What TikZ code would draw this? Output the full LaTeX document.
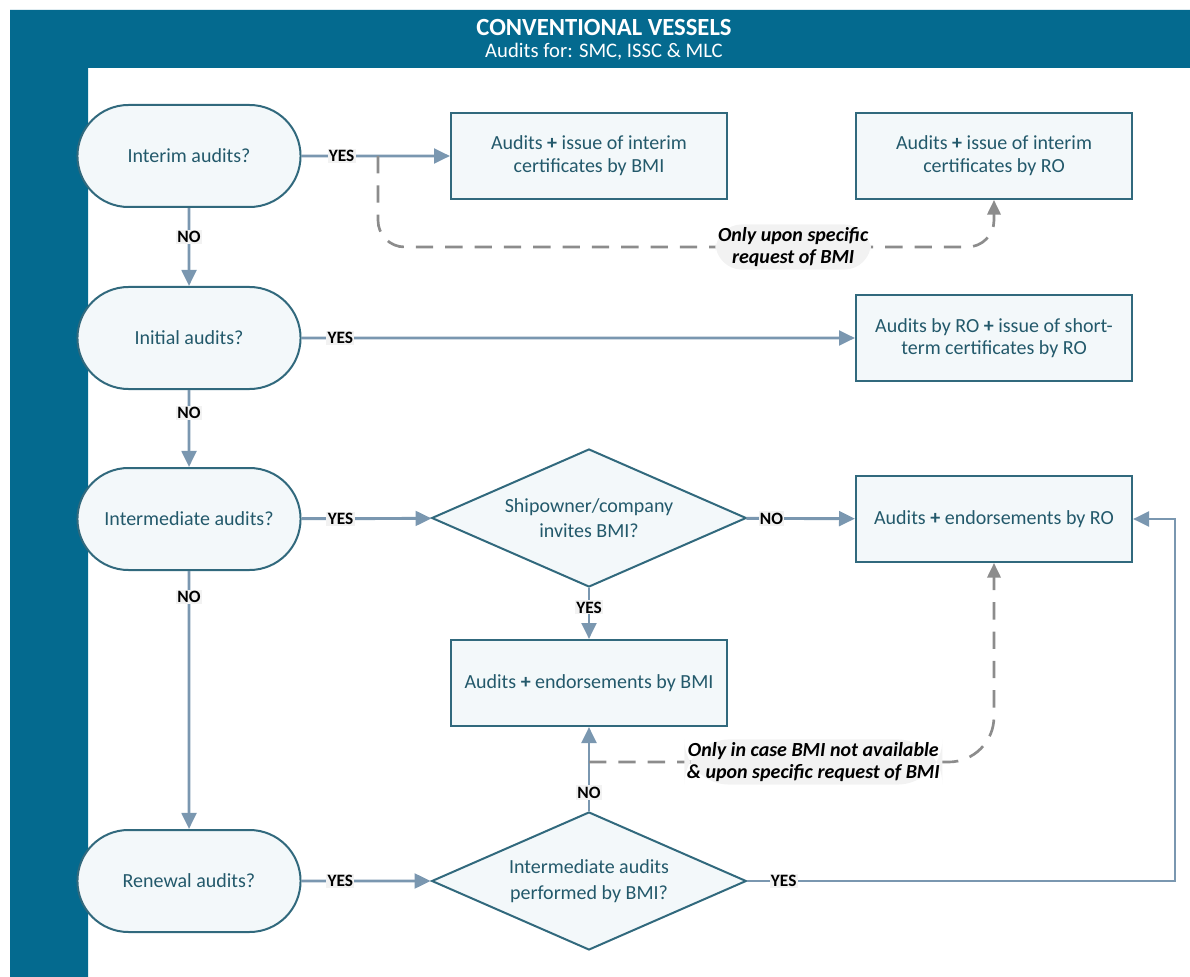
\documentclass[tikz,border=0pt]{standalone}
\usepackage{fontspec}
\setmainfont{Carlito}
\usetikzlibrary{shapes.geometric,shapes.misc,arrows.meta}

\definecolor{bmiblue}{RGB}{4,106,143}
\definecolor{nodeline}{RGB}{49,105,125}
\definecolor{nodefill}{RGB}{243,248,250}
\definecolor{nodetext}{RGB}{35,89,107}
\definecolor{flowline}{RGB}{122,151,176}
\definecolor{dashgrey}{RGB}{140,140,140}
\definecolor{tagfill}{RGB}{242,242,242}

\tikzset{
  question/.style={rounded rectangle, draw=nodeline, line width=1.5pt, fill=nodefill,
    text=nodetext, minimum width=174pt, minimum height=76.5pt,
    font=\fontsize{15}{17}\selectfont},
  action/.style={rectangle, draw=nodeline, line width=1.5pt, fill=nodefill,
    text=nodetext, minimum width=207pt, minimum height=64.5pt, align=center,
    font=\fontsize{15}{17}\selectfont},
  decision/.style={diamond, aspect=2.28, draw=nodeline, line width=1.5pt, fill=nodefill,
    text=nodetext, minimum width=236pt, minimum height=103.5pt, inner sep=0pt,
    align=center, font=\fontsize{15}{19}\selectfont},
  flow/.style={draw=flowline, line width=2.2pt, -{Triangle[length=12pt,width=11pt]}},
  optional/.style={draw=dashgrey, line width=2pt, dash pattern=on 13pt off 9pt,
    -{Triangle[length=11pt,width=10pt]}},
  yn/.style={fill=tagfill, text=black, inner sep=1pt, font=\bfseries\fontsize{13}{15}\selectfont},
  note/.style={fill=tagfill, text=black, inner sep=2pt, align=center,
    font=\bfseries\itshape\fontsize{15}{17}\selectfont}
}

\begin{document}
\begin{tikzpicture}[x=0.75pt,y=-0.75pt]
\useasboundingbox (0,0) rectangle (1190,977);
\fill[bmiblue] (10,10) rectangle (1190,68) (10,68) rectangle (88,977);
\node[text=white, font=\bfseries\fontsize{18.5}{20}\selectfont] (hdr) at (604,27) {CONVENTIONAL VESSELS};
\node[text=white, font=\fontsize{15.5}{17}\selectfont] (hdrsub) at (604,52) {Audits for: SMC, ISSC \& MLC};

\node[question] (interim) at (189,156) {Interim audits?};
\node[question] (initial) at (189,338) {Initial audits?};
\node[question] (intermed) at (189,519) {Intermediate audits?};
\node[question] (renewal) at (189,881) {Renewal audits?};

\node[action] (bmiint) at (589,156) {Audits \textbf{+} issue of interim\\certificates by BMI};
\node[action] (roint) at (994,156) {Audits \textbf{+} issue of interim\\certificates by RO};
\node[action] (roshort) at (994,338) {Audits by RO \textbf{+} issue of short-\\term certificates by RO};
\node[action] (roend) at (994,519) {Audits \textbf{+} endorsements by RO};
\node[action] (bmiend) at (589,683) {Audits \textbf{+} endorsements by BMI};

\node[decision] (invite) at (589,518) {Shipowner/company\\invites BMI?};
\node[decision] (perf) at (589,881) {Intermediate audits\\performed by BMI?};

\coordinate (split1) at (378,156);
\coordinate (bend1) at (994,247);
\coordinate (split2) at (589,762);
\coordinate (ret) at (1175,881);

\draw[flow] (interim) -- node[yn,pos=0.27]{YES} (bmiint);
\draw[flow] (initial) -- node[yn,pos=0.07]{YES} (roshort);
\draw[flow] (intermed) -- node[yn,pos=0.3]{YES} (invite);
\draw[flow] (renewal) -- node[yn,pos=0.3]{YES} (perf);
\draw[flow] (invite) -- node[yn,pos=0.23]{NO} (roend);
\draw[flow] (perf.east) -- node[yn,pos=0.085]{YES} (ret) |- (roend.east);

\draw[flow] (interim) -- node[yn,pos=0.375]{NO} (initial);
\draw[flow] (initial) -- node[yn,pos=0.3]{NO} (intermed);
\draw[flow] (intermed) -- node[yn,pos=0.1]{NO} (renewal);
\draw[flow] (invite) -- node[yn,pos=0.38]{YES} (bmiend);
\draw[flow] (perf) -- node[yn,pos=0.22]{NO} (bmiend);

\draw[optional, rounded corners=20pt] (split1) |- node[note,pos=0.837]{Only upon specific\\request of BMI} (bend1) -- (roint);
\draw[optional, rounded corners=34pt] (split2) -| node[note,pos=0.277]{Only in case BMI not available\\\& upon specific request of BMI} (roend);
\end{tikzpicture}
\end{document}
